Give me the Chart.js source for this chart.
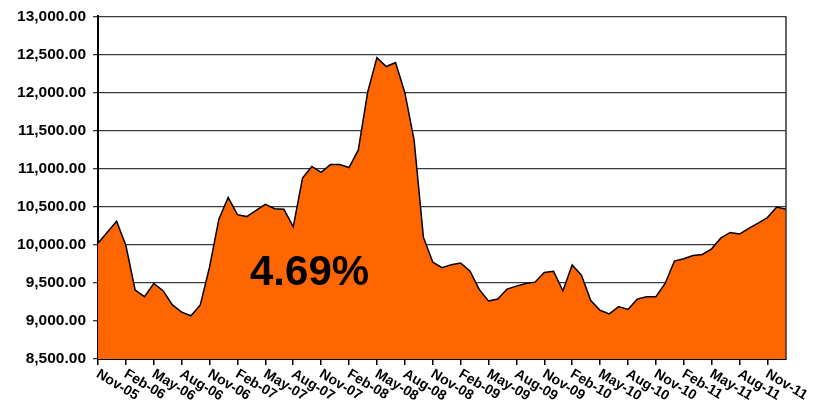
<!DOCTYPE html>
<html>
<head>
<meta charset="utf-8">
<script src="https://cdn.jsdelivr.net/npm/chart.js@4.4.0/dist/chart.umd.min.js"></script>
<style>
    body { margin: 0; background: #ffffff; }
</style>
</head>
<body>
<canvas id="areaChart" width="814" height="408"></canvas>
<script>
(function () {

    var categories = [
        "Nov-05", "Dec-05", "Jan-06", "Feb-06", "Mar-06", "Apr-06", "May-06", "Jun-06", "Jul-06", "Aug-06",
        "Sep-06", "Oct-06", "Nov-06", "Dec-06", "Jan-07", "Feb-07", "Mar-07", "Apr-07", "May-07", "Jun-07",
        "Jul-07", "Aug-07", "Sep-07", "Oct-07", "Nov-07", "Dec-07", "Jan-08", "Feb-08", "Mar-08", "Apr-08",
        "May-08", "Jun-08", "Jul-08", "Aug-08", "Sep-08", "Oct-08", "Nov-08", "Dec-08", "Jan-09", "Feb-09",
        "Mar-09", "Apr-09", "May-09", "Jun-09", "Jul-09", "Aug-09", "Sep-09", "Oct-09", "Nov-09", "Dec-09",
        "Jan-10", "Feb-10", "Mar-10", "Apr-10", "May-10", "Jun-10", "Jul-10", "Aug-10", "Sep-10", "Oct-10",
        "Nov-10", "Dec-10", "Jan-11", "Feb-11", "Mar-11", "Apr-11", "May-11", "Jun-11", "Jul-11", "Aug-11",
        "Sep-11", "Oct-11", "Nov-11", "Dec-11", "Jan-12"
    ];

    var indexValues = [
        10020, 10165, 10310, 9990, 9405, 9318, 9492, 9397, 9210, 9115,
        9068, 9210, 9708, 10336, 10620, 10395, 10370, 10453, 10531, 10474,
        10466, 10236, 10877, 11028, 10950, 11053, 11053, 11014, 11245, 12000,
        12457, 12340, 12392, 12000, 11375, 10100, 9773, 9700, 9739, 9760,
        9656, 9414, 9262, 9288, 9418, 9457, 9492, 9509, 9635, 9652,
        9394, 9735, 9600, 9268, 9140, 9093, 9188, 9150, 9286, 9318,
        9318, 9492, 9786, 9817, 9860, 9873, 9947, 10090, 10162, 10141,
        10214, 10284, 10357, 10496, 10466
    ];

    var yTicks = [8500, 9000, 9500, 10000, 10500, 11000, 11500, 12000, 12500, 13000];

    var labelEvery = 3;
    var growthText = "4.69%";

    var fontFamily = '"Liberation Sans", Arial, sans-serif';

    function formatValue(v) {
        return v.toLocaleString('en-US', { minimumFractionDigits: 2, maximumFractionDigits: 2 });
    }

    // draws the slanted month labels, the right frame line and the big percentage
    var extrasPlugin = {
        id: 'extras',
        afterDraw: function (chart) {
            var ctx = chart.ctx;
            var area = chart.chartArea;
            var xScale = chart.scales.x;

            ctx.save();

            ctx.strokeStyle = '#333333';
            ctx.lineWidth = 1.5;
            ctx.beginPath();
            ctx.moveTo(area.right, area.top);
            ctx.lineTo(area.right, area.bottom);
            ctx.stroke();

            ctx.font = 'bold 14px ' + fontFamily;
            ctx.fillStyle = '#000000';
            ctx.textAlign = 'left';
            ctx.textBaseline = 'top';
            for (var i = 0; i < categories.length; i += labelEvery) {
                var x = xScale.getPixelForValue(i);
                ctx.save();
                ctx.translate(x + 3, area.bottom + 8);
                ctx.rotate(31 * Math.PI / 180);
                ctx.fillText(categories[i], 0, 0);
                ctx.restore();
            }

            ctx.font = 'bold 42px ' + fontFamily;
            ctx.textBaseline = 'alphabetic';
            ctx.fillText(growthText, 250, 285);

            ctx.restore();
        }
    };

    var chartData = {
        labels: categories,
        datasets: [
            {
                label: "Index",
                data: indexValues,
                fill: 'start',
                backgroundColor: '#FF6600',
                borderColor: '#000000',
                borderWidth: 1.5,
                pointRadius: 0,
                tension: 0
            }
        ]
    };

    var chartOptions = {
        responsive: false,
        animation: false,
        layout: {
            padding: { top: 13, right: 28, left: 0, bottom: 0 }
        },
        plugins: {
            legend: { display: false },
            tooltip: { enabled: false }
        },
        scales: {
            x: {
                type: 'category',
                offset: false,
                ticks: { display: false, autoSkip: false },
                grid: {
                    offset: false,
                    drawOnChartArea: false,
                    drawTicks: true,
                    tickLength: 6,
                    lineWidth: 1.5,
                    color: function (c) {
                        return c.index % labelEvery === 0 ? '#000000' : 'rgba(0,0,0,0)';
                    }
                },
                border: { display: true, color: '#000000', width: 2 },
                afterFit: function (scale) { scale.height = 49; }
            },
            y: {
                min: yTicks[0],
                max: yTicks[yTicks.length - 1],
                afterBuildTicks: function (scale) {
                    scale.ticks = yTicks.map(function (v) { return { value: v }; });
                },
                ticks: {
                    color: '#000000',
                    padding: 7,
                    font: { family: fontFamily, size: 15.5, weight: 'bold' },
                    callback: function (v) { return formatValue(v); }
                },
                grid: {
                    color: '#3a3a3a',
                    lineWidth: 1.3,
                    drawTicks: true,
                    tickLength: 5
                },
                border: { display: true, color: '#000000', width: 2 },
                afterFit: function (scale) { scale.width = 98; }
            }
        }
    };

    var canvas = document.getElementById('areaChart').getContext('2d');
    new Chart(canvas, {
        type: 'line',
        data: chartData,
        options: chartOptions,
        plugins: [extrasPlugin]
    });

})();
</script>
</body>
</html>
